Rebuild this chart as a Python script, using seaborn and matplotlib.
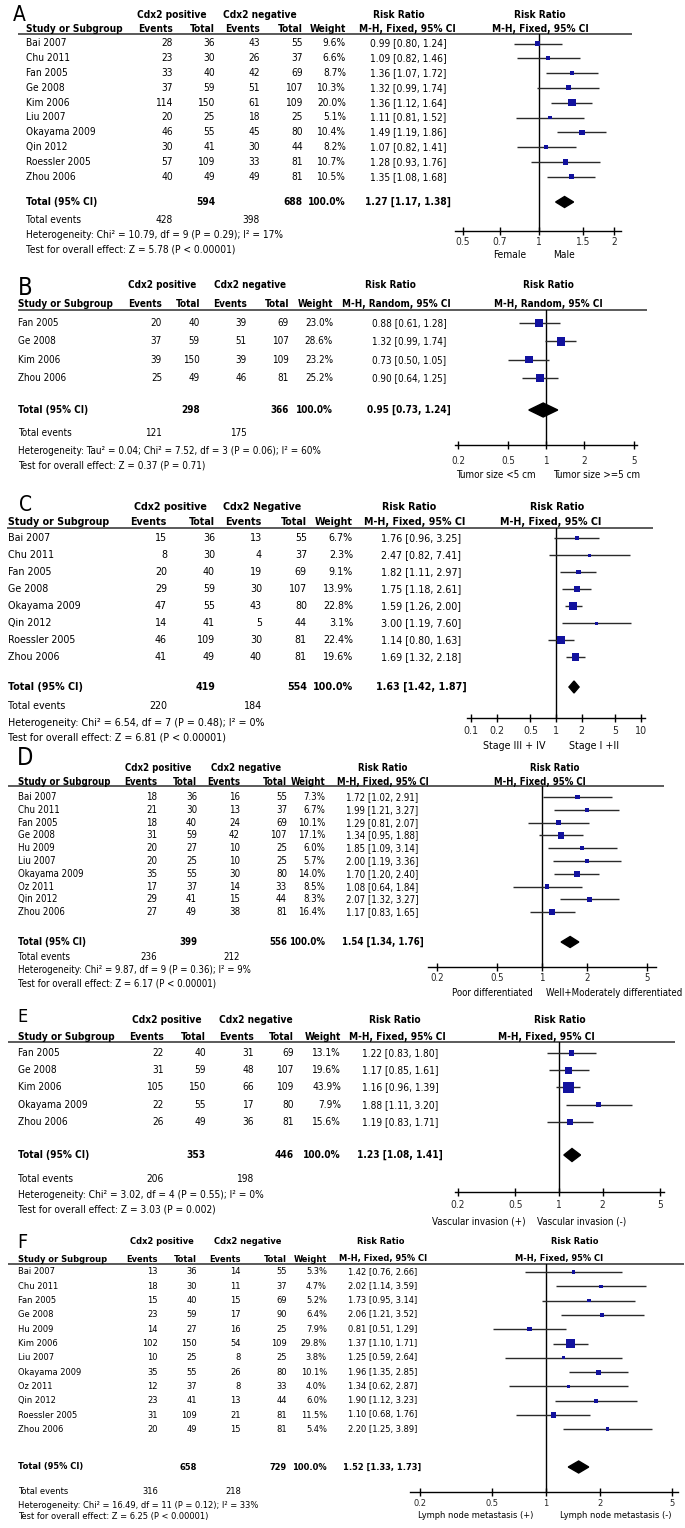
import numpy as np
import matplotlib
matplotlib.use("Agg")
import matplotlib.pyplot as plt
import seaborn as sns
from matplotlib import font_manager as fm
from matplotlib.textpath import TextPath
from matplotlib.font_manager import FontProperties
from matplotlib.ticker import NullLocator

# ---------------- data ----------------
# A: sex
a_study = ["Bai 2007", "Chu 2011", "Fan 2005", "Ge 2008", "Kim 2006", "Liu 2007",
           "Okayama 2009", "Qin 2012", "Roessler 2005", "Zhou 2006"]
a_ev_pos = [28, 23, 33, 37, 114, 20, 46, 30, 57, 40]
a_tot_pos = [36, 30, 40, 59, 150, 25, 55, 41, 109, 49]
a_ev_neg = [43, 26, 42, 51, 61, 18, 45, 30, 33, 49]
a_tot_neg = [55, 37, 69, 107, 109, 25, 80, 44, 81, 81]
a_weight = [9.6, 6.6, 8.7, 10.3, 20.0, 5.1, 10.4, 8.2, 10.7, 10.5]
a_rr = [0.99, 1.09, 1.36, 1.32, 1.36, 1.11, 1.49, 1.07, 1.28, 1.35]
a_lo = [0.80, 0.82, 1.07, 0.99, 1.12, 0.81, 1.19, 0.82, 0.93, 1.08]
a_hi = [1.24, 1.46, 1.72, 1.74, 1.64, 1.52, 1.86, 1.41, 1.76, 1.68]
a_total = (594, 688, 428, 398, 1.27, 1.17, 1.38)
a_ticks = [0.5, 0.7, 1, 1.5, 2]
a_sides = ["Female", "Male"]
a_het = "Heterogeneity: Chi\u00b2 = 10.79, df = 9 (P = 0.29); I\u00b2 = 17%"
a_test = "Test for overall effect: Z = 5.78 (P < 0.00001)"

# B: tumor size
b_study = ["Fan 2005", "Ge 2008", "Kim 2006", "Zhou 2006"]
b_ev_pos = [20, 37, 39, 25]
b_tot_pos = [40, 59, 150, 49]
b_ev_neg = [39, 51, 39, 46]
b_tot_neg = [69, 107, 109, 81]
b_weight = [23.0, 28.6, 23.2, 25.2]
b_rr = [0.88, 1.32, 0.73, 0.90]
b_lo = [0.61, 0.99, 0.50, 0.64]
b_hi = [1.28, 1.74, 1.05, 1.25]
b_total = (298, 366, 121, 175, 0.95, 0.73, 1.24)
b_ticks = [0.2, 0.5, 1, 2, 5]
b_sides = ["Tumor size <5 cm", "Tumor size >=5 cm"]
b_het = "Heterogeneity: Tau\u00b2 = 0.04; Chi\u00b2 = 7.52, df = 3 (P = 0.06); I\u00b2 = 60%"
b_test = "Test for overall effect: Z = 0.37 (P = 0.71)"

# C: stage
c_study = ["Bai 2007", "Chu 2011", "Fan 2005", "Ge 2008", "Okayama 2009", "Qin 2012",
           "Roessler 2005", "Zhou 2006"]
c_ev_pos = [15, 8, 20, 29, 47, 14, 46, 41]
c_tot_pos = [36, 30, 40, 59, 55, 41, 109, 49]
c_ev_neg = [13, 4, 19, 30, 43, 5, 30, 40]
c_tot_neg = [55, 37, 69, 107, 80, 44, 81, 81]
c_weight = [6.7, 2.3, 9.1, 13.9, 22.8, 3.1, 22.4, 19.6]
c_rr = [1.76, 2.47, 1.82, 1.75, 1.59, 3.00, 1.14, 1.69]
c_lo = [0.96, 0.82, 1.11, 1.18, 1.26, 1.19, 0.80, 1.32]
c_hi = [3.25, 7.41, 2.97, 2.61, 2.00, 7.60, 1.63, 2.18]
c_total = (419, 554, 220, 184, 1.63, 1.42, 1.87)
c_ticks = [0.1, 0.2, 0.5, 1, 2, 5, 10]
c_sides = ["Stage III + IV", "Stage I +II"]
c_het = "Heterogeneity: Chi\u00b2 = 6.54, df = 7 (P = 0.48); I\u00b2 = 0%"
c_test = "Test for overall effect: Z = 6.81 (P < 0.00001)"

# D: differentiation
d_study = ["Bai 2007", "Chu 2011", "Fan 2005", "Ge 2008", "Hu 2009", "Liu 2007",
           "Okayama 2009", "Oz 2011", "Qin 2012", "Zhou 2006"]
d_ev_pos = [18, 21, 18, 31, 20, 20, 35, 17, 29, 27]
d_tot_pos = [36, 30, 40, 59, 27, 25, 55, 37, 41, 49]
d_ev_neg = [16, 13, 24, 42, 10, 10, 30, 14, 15, 38]
d_tot_neg = [55, 37, 69, 107, 25, 25, 80, 33, 44, 81]
d_weight = [7.3, 6.7, 10.1, 17.1, 6.0, 5.7, 14.0, 8.5, 8.3, 16.4]
d_rr = [1.72, 1.99, 1.29, 1.34, 1.85, 2.00, 1.70, 1.08, 2.07, 1.17]
d_lo = [1.02, 1.21, 0.81, 0.95, 1.09, 1.19, 1.20, 0.64, 1.32, 0.83]
d_hi = [2.91, 3.27, 2.07, 1.88, 3.14, 3.36, 2.40, 1.84, 3.27, 1.65]
d_total = (399, 556, 236, 212, 1.54, 1.34, 1.76)
d_ticks = [0.2, 0.5, 1, 2, 5]
d_sides = ["Poor differentiated", "Well+Moderately differentiated"]
d_het = "Heterogeneity: Chi\u00b2 = 9.87, df = 9 (P = 0.36); I\u00b2 = 9%"
d_test = "Test for overall effect: Z = 6.17 (P < 0.00001)"

# E: vascular invasion
e_study = ["Fan 2005", "Ge 2008", "Kim 2006", "Okayama 2009", "Zhou 2006"]
e_ev_pos = [22, 31, 105, 22, 26]
e_tot_pos = [40, 59, 150, 55, 49]
e_ev_neg = [31, 48, 66, 17, 36]
e_tot_neg = [69, 107, 109, 80, 81]
e_weight = [13.1, 19.6, 43.9, 7.9, 15.6]
e_rr = [1.22, 1.17, 1.16, 1.88, 1.19]
e_lo = [0.83, 0.85, 0.96, 1.11, 0.83]
e_hi = [1.80, 1.61, 1.39, 3.20, 1.71]
e_total = (353, 446, 206, 198, 1.23, 1.08, 1.41)
e_ticks = [0.2, 0.5, 1, 2, 5]
e_sides = ["Vascular invasion (+)", "Vascular invasion (-)"]
e_het = "Heterogeneity: Chi\u00b2 = 3.02, df = 4 (P = 0.55); I\u00b2 = 0%"
e_test = "Test for overall effect: Z = 3.03 (P = 0.002)"

# F: lymph node metastasis
f_study = ["Bai 2007", "Chu 2011", "Fan 2005", "Ge 2008", "Hu 2009", "Kim 2006", "Liu 2007",
           "Okayama 2009", "Oz 2011", "Qin 2012", "Roessler 2005", "Zhou 2006"]
f_ev_pos = [13, 18, 15, 23, 14, 102, 10, 35, 12, 23, 31, 20]
f_tot_pos = [36, 30, 40, 59, 27, 150, 25, 55, 37, 41, 109, 49]
f_ev_neg = [14, 11, 15, 17, 16, 54, 8, 26, 8, 13, 21, 15]
f_tot_neg = [55, 37, 69, 90, 25, 109, 25, 80, 33, 44, 81, 81]
f_weight = [5.3, 4.7, 5.2, 6.4, 7.9, 29.8, 3.8, 10.1, 4.0, 6.0, 11.5, 5.4]
f_rr = [1.42, 2.02, 1.73, 2.06, 0.81, 1.37, 1.25, 1.96, 1.34, 1.90, 1.10, 2.20]
f_lo = [0.76, 1.14, 0.95, 1.21, 0.51, 1.10, 0.59, 1.35, 0.62, 1.12, 0.68, 1.25]
f_hi = [2.66, 3.59, 3.14, 3.52, 1.29, 1.71, 2.64, 2.85, 2.87, 3.23, 1.76, 3.89]
f_total = (658, 729, 316, 218, 1.52, 1.33, 1.73)
f_ticks = [0.2, 0.5, 1, 2, 5]
f_sides = ["Lymph node metastasis (+)", "Lymph node metastasis (-)"]
f_het = "Heterogeneity: Chi\u00b2 = 16.49, df = 11 (P = 0.12); I\u00b2 = 33%"
f_test = "Test for overall effect: Z = 6.25 (P < 0.00001)"

panels = [
    dict(letter="A", study=a_study, ep=a_ev_pos, tp=a_tot_pos, en=a_ev_neg, tn=a_tot_neg, w=a_weight,
         rr=a_rr, lo=a_lo, hi=a_hi, total=a_total, ticks=a_ticks, sides=a_sides, het=a_het, test=a_test,
         neg="Cdx2 negative", method="M-H, Fixed, 95% CI"),
    dict(letter="B", study=b_study, ep=b_ev_pos, tp=b_tot_pos, en=b_ev_neg, tn=b_tot_neg, w=b_weight,
         rr=b_rr, lo=b_lo, hi=b_hi, total=b_total, ticks=b_ticks, sides=b_sides, het=b_het, test=b_test,
         neg="Cdx2 negative", method="M-H, Random, 95% CI"),
    dict(letter="C", study=c_study, ep=c_ev_pos, tp=c_tot_pos, en=c_ev_neg, tn=c_tot_neg, w=c_weight,
         rr=c_rr, lo=c_lo, hi=c_hi, total=c_total, ticks=c_ticks, sides=c_sides, het=c_het, test=c_test,
         neg="Cdx2 Negative", method="M-H, Fixed, 95% CI"),
    dict(letter="D", study=d_study, ep=d_ev_pos, tp=d_tot_pos, en=d_ev_neg, tn=d_tot_neg, w=d_weight,
         rr=d_rr, lo=d_lo, hi=d_hi, total=d_total, ticks=d_ticks, sides=d_sides, het=d_het, test=d_test,
         neg="Cdx2 negative", method="M-H, Fixed, 95% CI"),
    dict(letter="E", study=e_study, ep=e_ev_pos, tp=e_tot_pos, en=e_ev_neg, tn=e_tot_neg, w=e_weight,
         rr=e_rr, lo=e_lo, hi=e_hi, total=e_total, ticks=e_ticks, sides=e_sides, het=e_het, test=e_test,
         neg="Cdx2 negative", method="M-H, Fixed, 95% CI"),
    dict(letter="F", study=f_study, ep=f_ev_pos, tp=f_tot_pos, en=f_ev_neg, tn=f_tot_neg, w=f_weight,
         rr=f_rr, lo=f_lo, hi=f_hi, total=f_total, ticks=f_ticks, sides=f_sides, het=f_het, test=f_test,
         neg="Cdx2 negative", method="M-H, Fixed, 95% CI"),
]

# ---------------- layout (pixels, y down) ----------------
layout = [
    dict(letter=(13, 15, 15), h1=15.5, h2=29.5, line=(18, 632, 33.5), row0=43.5, dy=14.8,
         total=202, tev=220, het=235, test=249, axis=231, tick=242, side=255,
         cols=(26, 173, 215, 260, 303, 346), rrc=408, hp=172, hn=259.5, rrh=399, mh=407,
         rh=540, rmh=540.5, c=538.5, s=109, ax=(455, 621), side_x=(510, 564), side_w=40,
         het_w=255, dh=11),
    dict(letter=(18, 288, 17), h1=285, h2=304, line=(18, 647, 309.5), row0=323, dy=18.3,
         total=410, tev=433, het=451, test=466, axis=445, tick=460, side=475,
         cols=(18, 162, 200, 247, 289, 333), rrc=409, hp=162, hn=250, rrh=390, mh=396.5,
         rh=548, rmh=548.5, c=546, s=54.7, ax=(455, 637), side_x=(496, 597), side_w=81,
         het_w=302, dh=14),
    dict(letter=(19, 505, 15), h1=507, h2=522, line=(7, 653, 528), row0=538, dy=17,
         total=687, tev=706, het=723, test=738, axis=718, tick=731, side=746,
         cols=(8, 167, 215, 262, 307, 353), rrc=421.5, hp=170, hn=262, rrh=409, mh=414.5,
         rh=557, rmh=550.5, c=556, s=36.9, ax=(467, 645), side_x=(514, 594), side_w=69,
         het_w=257, dh=12),
    dict(letter=(17, 758, 17), h1=768, h2=782, line=(8, 664, 786), row0=797, dy=12.8,
         total=942, tev=957, het=970, test=983, axis=967, tick=977, side=993,
         cols=(18, 157, 197, 240, 287, 325), rrc=382.5, hp=158, hn=246, rrh=382.5, mh=383,
         rh=555, rmh=539.5, c=542, s=65.2, ax=(428, 656), side_x=(492, 614), side_w=85,
         het_w=232, dh=11),
    dict(letter=(17, 1017, 13), h1=1020, h2=1037, line=(8, 675, 1042), row0=1053, dy=17.2,
         total=1155, tev=1179, het=1195, test=1210, axis=1192, tick=1205, side=1222,
         cols=(18, 164, 206, 254, 294, 341), rrc=400, hp=166.5, hn=256, rrh=394.5, mh=397,
         rh=559.5, rmh=546, c=559, s=62.8, ax=(455, 664), side_x=(479, 582), side_w=92,
         het_w=245, dh=13),
    dict(letter=(17, 1242, 14), h1=1242, h2=1259, line=(8, 684, 1264), row0=1272, dy=14.3,
         total=1467, tev=1492, het=1505, test=1516, axis=1492, tick=1503, side=1516,
         cols=(18, 158, 197, 241, 287, 327), rrc=382.5, hp=162, hn=247.5, rrh=380.5, mh=383,
         rh=574.5, rmh=559, c=546, s=78, ax=(410, 678), side_x=(476, 616), side_w=123,
         het_w=241, dh=12),
]

W, H, DPI = 685, 1528, 100
BLUE = "#12129e"


def pick_font():
    # prefer a condensed sans, like the narrow Arial of the original figure
    try:
        p = fm.findfont(FontProperties(family="Liberation Sans Narrow"), fallback_to_default=False)
        if "Narrow" in p:
            return "Liberation Sans Narrow", "normal"
    except Exception:
        pass
    try:
        p = fm.findfont(FontProperties(family="DejaVu Sans", stretch="condensed"),
                        fallback_to_default=False)
        if "Condensed" in p:
            return "DejaVu Sans", "condensed"
    except Exception:
        pass
    return "Liberation Sans", "normal"


FAMILY, STRETCH = pick_font()

sns.set_theme(style="white")
plt.rcParams["font.family"] = [FAMILY, "DejaVu Sans"]
plt.rcParams["font.stretch"] = STRETCH

fig = plt.figure(figsize=(W / DPI, H / DPI), dpi=DPI)
fig.patch.set_facecolor("white")
bg = fig.add_axes([0, 0, 1, 1])
bg.set_xlim(0, W)
bg.set_ylim(H, 0)
bg.axis("off")


def fit_size(s, width_px):
    fp = FontProperties(family=FAMILY, stretch=STRETCH)
    w10 = TextPath((0, 0), s, size=10, prop=fp).get_extents().width
    return 10 * width_px / (w10 * DPI / 72)


def fmt_rr(v, l, h):
    return f"{v:.2f} [{l:.2f}, {h:.2f}]"


for d, L in zip(panels, layout):
    fs = fit_size(d["het"], L["het_w"])
    fs_side = min(fit_size(d["sides"][0], L["side_w"]), fs)

    def T(x, y, s, ha="left", bold=False, size=None):
        bg.text(x, y, s, ha=ha, va="center", fontsize=size or fs, fontstretch=STRETCH,
                fontweight="bold" if bold else "normal", color="black")

    sx, c_ep, c_tp, c_en, c_tn, c_w = L["cols"]
    lx, ly, lsz = L["letter"]
    T(lx, ly, d["letter"], size=lsz)

    # headers
    T(L["hp"], L["h1"], "Cdx2 positive", "center", True)
    T(L["hn"], L["h1"], d["neg"], "center", True)
    T(L["rrh"], L["h1"], "Risk Ratio", "center", True)
    T(L["rh"], L["h1"], "Risk Ratio", "center", True)
    T(sx, L["h2"], "Study or Subgroup", "left", True)
    T(c_ep, L["h2"], "Events", "right", True)
    T(c_tp, L["h2"], "Total", "right", True)
    T(c_en, L["h2"], "Events", "right", True)
    T(c_tn, L["h2"], "Total", "right", True)
    T(c_w, L["h2"], "Weight", "right", True)
    T(L["mh"], L["h2"], d["method"], "center", True)
    T(L["rmh"], L["h2"], d["method"], "center", True)
    x0, x1, yl = L["line"]
    bg.plot([x0, x1], [yl, yl], color="#5a5a5a", lw=1.4, solid_capstyle="butt")

    # study rows
    ys = [L["row0"] + i * L["dy"] for i in range(len(d["study"]))]
    for i, y in enumerate(ys):
        T(sx, y, d["study"][i])
        T(c_ep, y, str(d["ep"][i]), "right")
        T(c_tp, y, str(d["tp"][i]), "right")
        T(c_en, y, str(d["en"][i]), "right")
        T(c_tn, y, str(d["tn"][i]), "right")
        T(c_w, y, f"{d['w'][i]:.1f}%", "right")
        T(L["rrc"], y, fmt_rr(d["rr"][i], d["lo"][i], d["hi"][i]), "center")

    tp_tot, tn_tot, ev_p, ev_n, est, elo, ehi = d["total"]
    T(sx, L["total"], "Total (95% CI)", "left", True)
    T(c_tp, L["total"], str(tp_tot), "right", True)
    T(c_tn, L["total"], str(tn_tot), "right", True)
    T(c_w, L["total"], "100.0%", "right", True)
    T(L["rrc"], L["total"], fmt_rr(est, elo, ehi), "center", True)
    T(sx, L["tev"], "Total events")
    T(c_ep, L["tev"], str(ev_p), "right")
    T(c_en, L["tev"], str(ev_n), "right")
    T(sx, L["het"], d["het"])
    T(sx, L["test"], d["test"])

    # forest plot axes: data y equals figure pixel y
    ax0, ax1 = L["ax"]
    ay = L["axis"]
    ax = fig.add_axes([ax0 / W, 1 - ay / H, (ax1 - ax0) / W, (ay - yl) / H])
    ax.set_facecolor("none")
    ax.set_xscale("log")
    ax.set_xlim(np.exp((ax0 - L["c"]) / L["s"]), np.exp((ax1 - L["c"]) / L["s"]))
    ax.set_ylim(ay, yl)
    for sp in ["top", "left", "right"]:
        ax.spines[sp].set_visible(False)
    ax.spines["bottom"].set_color("black")
    ax.spines["bottom"].set_linewidth(1.0)
    ax.axvline(1, color="black", lw=1.0, zorder=1)

    ax.hlines(ys, d["lo"], d["hi"], color="#2a2a2a", lw=1.0, zorder=2)
    side_px = np.maximum(3.0, 1.6 * np.sqrt(d["w"]))
    sns.scatterplot(x=d["rr"], y=ys, marker="s", s=(side_px * 72 / DPI) ** 2, color=BLUE,
                    linewidth=0, legend=False, ax=ax, zorder=3, clip_on=False)
    h = L["dh"]
    ty = L["total"]
    ax.fill([elo, est, ehi, est], [ty, ty - h / 2, ty, ty + h / 2], color="black", zorder=3,
            clip_on=False)

    ax.set_xticks(d["ticks"])
    ax.set_xticklabels([f"{t:g}" for t in d["ticks"]], fontstretch=STRETCH)
    ax.xaxis.set_minor_locator(NullLocator())
    ax.set_yticks([])
    tick_len = 6
    pad = (L["tick"] - ay - tick_len * DPI / 72 / 2 - fs * DPI / 72 * 0.45) * 72 / DPI
    ax.tick_params(axis="x", direction="inout", length=tick_len, width=1.0, color="black",
                   labelsize=fs, pad=max(pad, 0), bottom=True)
    ax.grid(False)

    T(L["side_x"][0], L["side"], d["sides"][0], "center", size=fs_side)
    T(L["side_x"][1], L["side"], d["sides"][1], "center", size=fs_side)

fig.savefig("out.png", dpi=DPI, facecolor="white")
